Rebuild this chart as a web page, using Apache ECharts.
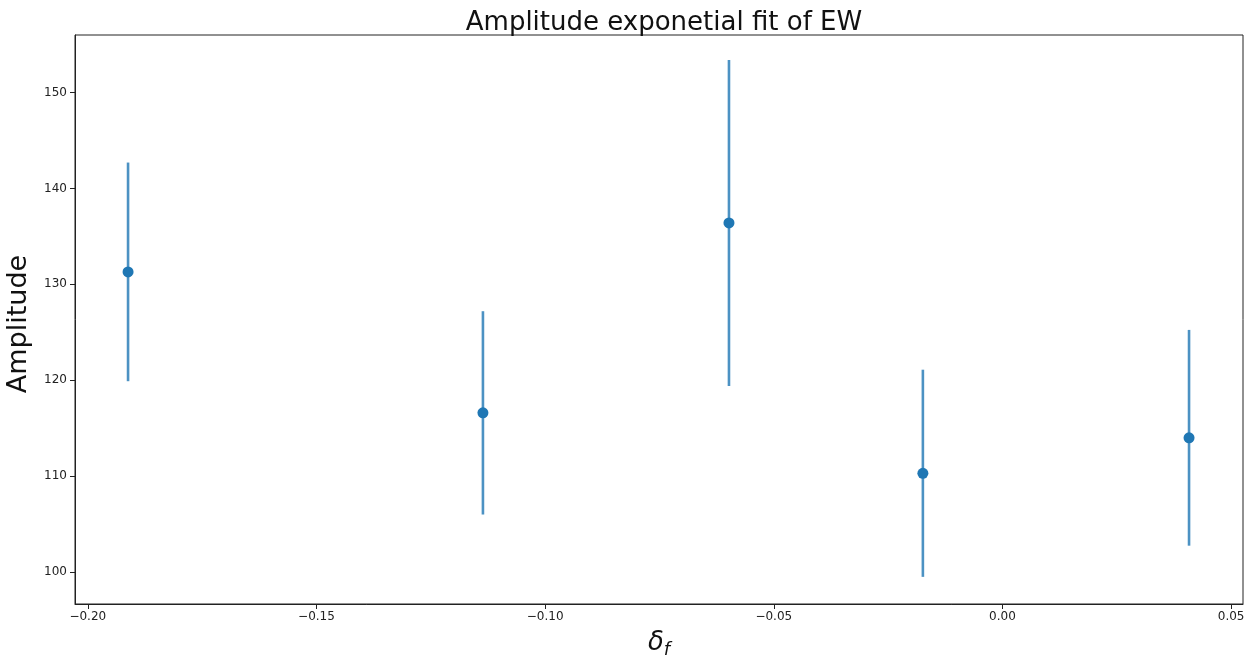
<!DOCTYPE html>
<html>
<head>
<meta charset="utf-8">
<title>Amplitude exponetial fit of EW</title>
<script src="https://cdn.jsdelivr.net/npm/echarts@6/dist/echarts.min.js"></script>
<style>
  html, body { margin: 0; padding: 0; background: #fff; }
  #chart { width: 1260px; height: 662px; }
</style>
</head>
<body>
<div id="chart"></div>
<script>
// Fitted amplitude per frequency offset, with symmetric 1-sigma errors
const deltaF = [-0.1912, -0.1136, -0.0598, -0.0174, 0.0408];
const amplitude = [131.3, 116.6, 136.4, 110.3, 114.0];
const amplitudeErr = [11.4, 10.6, 17.0, 10.8, 11.25];

const xTicks = [-0.20, -0.15, -0.10, -0.05, 0.00, 0.05];
const yTicks = [100, 110, 120, 130, 140, 150];

const C0 = '#1f77b4';
const FONT = '"DejaVu Sans", sans-serif';

const points = deltaF.map((x, i) => [x, amplitude[i]]);
const bars = deltaF.map((x, i) => [x, amplitude[i] - amplitudeErr[i], amplitude[i] + amplitudeErr[i]]);

const minus = s => s.replace('-', '\u2212');

const chart = echarts.init(document.getElementById('chart'), null, { renderer: 'canvas' });
chart.setOption({
  animation: false,
  backgroundColor: '#fff',
  title: {
    text: 'Amplitude exponetial fit of EW',
    left: 659, top: 5, textAlign: 'center',
    textStyle: { fontFamily: FONT, fontSize: 26, fontWeight: 'normal', color: '#111' }
  },
  grid: {
    left: 75, right: 17, top: 35, bottom: 58,
    outerBoundsMode: 'none',
    containLabel: false,
    show: true, borderColor: '#222', borderWidth: 1, backgroundColor: '#fff'
  },
  xAxis: {
    type: 'value', min: -0.2028, max: 0.0526,
    splitLine: { show: false },
    axisLine: { show: true, onZero: false, lineStyle: { color: '#222', width: 1 } },
    axisTick: { show: true, inside: false, length: 5, customValues: xTicks, lineStyle: { color: '#222' } },
    axisLabel: {
      customValues: xTicks, margin: 7,
      fontFamily: FONT, fontSize: 12, color: '#222',
      formatter: v => minus(v.toFixed(2))
    },
    name: '{d|δ}{s|f}', nameLocation: 'middle', nameGap: 23,
    nameTextStyle: {
      rich: {
        d: { fontFamily: FONT, fontSize: 26, fontStyle: 'italic', color: '#111' },
        s: { fontFamily: FONT, fontSize: 18, fontStyle: 'italic', color: '#111', verticalAlign: 'bottom', padding: [14, 0, 0, 0] }
      }
    }
  },
  yAxis: {
    type: 'value', min: 96.67, max: 156.0,
    splitLine: { show: false },
    axisLine: { show: true, onZero: false, lineStyle: { color: '#222', width: 1 } },
    axisTick: { show: true, inside: false, length: 5, customValues: yTicks, lineStyle: { color: '#222' } },
    axisLabel: {
      customValues: yTicks, margin: 8,
      fontFamily: FONT, fontSize: 12, color: '#222'
    },
    name: 'Amplitude', nameLocation: 'middle', nameGap: 43, nameRotate: 90,
    nameTextStyle: { fontFamily: FONT, fontSize: 27, color: '#111', padding: [0, 9, 0, 0] }
  },
  series: [
    {
      type: 'custom',
      data: bars,
      renderItem: (params, api) => {
        const lo = api.coord([api.value(0), api.value(1)]);
        const hi = api.coord([api.value(0), api.value(2)]);
        return {
          type: 'line',
          shape: { x1: lo[0], y1: lo[1], x2: hi[0], y2: hi[1] },
          style: { stroke: C0, lineWidth: 2.6, opacity: 0.8 }
        };
      },
      z: 2
    },
    {
      type: 'scatter',
      data: points,
      symbol: 'circle',
      symbolSize: 11,
      itemStyle: { color: C0, opacity: 1 },
      z: 3
    }
  ]
});
</script>
</body>
</html>
